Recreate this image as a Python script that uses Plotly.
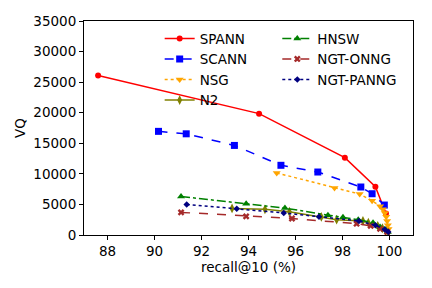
import plotly.graph_objects as go

spann_x = [87.6, 94.45, 98.1, 99.4, 99.85]
spann_y = [26100, 19850, 12650, 7900, 3500]

scann_x = [90.17, 91.35, 93.4, 95.38, 96.95, 98.78, 99.26, 99.78]
scann_y = [16950, 16550, 14650, 11400, 10300, 7850, 6750, 4900]

nsg_x = [95.2, 97.66, 98.73, 99.26, 99.6, 99.72, 99.8, 99.86, 99.9, 99.93, 99.96]
nsg_y = [10150, 7700, 6700, 5600, 4700, 4200, 3600, 3000, 2300, 1600, 1000]

hnsw_x = [91.13, 93.9, 95.55, 97.38, 98.02, 98.67, 99.3, 99.6, 99.8, 99.93]
hnsw_y = [6300, 5100, 4400, 3250, 2900, 2500, 2000, 1300, 900, 500]

onng_x = [91.13, 93.9, 95.85, 98.6, 99.2, 99.6, 99.9]
onng_y = [3700, 3050, 2700, 1850, 1500, 1000, 500]

panng_x = [91.37, 93.5, 95.5, 97.0, 98.7, 99.4, 99.8, 99.95]
panng_y = [5000, 4300, 3600, 3000, 2300, 1600, 900, 500]

n2_x = [93.3, 94.7, 95.74, 97.1, 97.75, 98.87, 99.1, 99.5, 99.7, 99.85, 99.95]
n2_y = [4350, 4200, 3800, 2950, 2500, 2300, 2000, 1500, 1100, 700, 400]

series = [
    ("SPANN", spann_x, spann_y, "red", "solid", "circle", 6, "legend"),
    ("SCANN", scann_x, scann_y, "blue", "dash", "square", 7, "legend"),
    ("NSG", nsg_x, nsg_y, "orange", "dot", "triangle-down", 7, "legend"),
    ("N2", n2_x, n2_y, "olive", "solid", "diamond-tall", 7, "legend"),
    ("HNSW", hnsw_x, hnsw_y, "green", "dashdot", "triangle-up", 7, "legend2"),
    ("NGT-ONNG", onng_x, onng_y, "brown", "dash", "x", 6, "legend2"),
    ("NGT-PANNG", panng_x, panng_y, "navy", "dot", "diamond", 5, "legend2"),
]

fig = go.Figure()
for name, xs, ys, color, dash, sym, size, leg in series:
    fig.add_trace(go.Scatter(
        x=xs, y=ys, name=name, mode="lines+markers",
        line=dict(color=color, dash=dash, width=1.5),
        marker=dict(color=color, symbol=sym, size=size, line=dict(width=0)),
        legend=leg,
    ))

legend_common = dict(
    font=dict(family="DejaVu Sans", size=13.5, color="black"),
    bgcolor="rgba(0,0,0,0)", borderwidth=0,
    xref="paper", yref="paper", xanchor="left", yanchor="top",
    tracegroupgap=0, itemwidth=30,
)

# page body has an 8px margin, so the figure is sized to fill the rest of the window
fig.update_layout(
    width=424, height=280,
    margin=dict(l=76, r=19, t=13, b=53),
    paper_bgcolor="white", plot_bgcolor="white",
    font=dict(family="DejaVu Sans", size=13.5, color="black"),
    legend=dict(x=0.23, y=0.99, **legend_common),
    legend2=dict(x=0.5875, y=0.99, **legend_common),
    xaxis=dict(
        range=[87, 101], tickvals=[88, 90, 92, 94, 96, 98, 100],
        ticks="outside", ticklen=4, tickcolor="black",
        showline=True, linecolor="black", linewidth=1, mirror=True,
        showgrid=False, zeroline=False, automargin=False,
        tickfont=dict(size=13.5),
        title=dict(text="recall@10 (%)", standoff=2, font=dict(size=13.5)),
    ),
    yaxis=dict(
        range=[0, 35000], tickvals=[0, 5000, 10000, 15000, 20000, 25000, 30000, 35000],
        tickformat="d",
        ticks="outside", ticklen=4, tickcolor="black",
        showline=True, linecolor="black", linewidth=1, mirror=True,
        showgrid=False, zeroline=False, automargin=False,
        tickfont=dict(size=13.5),
        title=dict(text="VQ", standoff=4, font=dict(size=13.5)),
    ),
)

fig.write_html("out.html")
